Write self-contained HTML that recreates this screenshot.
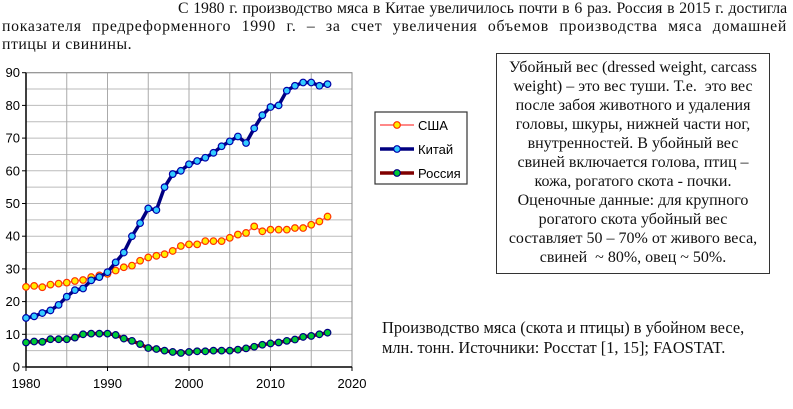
<!DOCTYPE html>
<html><head><meta charset="utf-8"><style>
body{margin:0;width:793px;height:409px;background:#fff;position:relative;overflow:hidden;font-family:"Liberation Serif",serif}
.tl{position:absolute;font-size:15.8px;line-height:18px;text-align:justify;text-align-last:justify;color:#111;white-space:nowrap}
#box{position:absolute;left:496px;top:53px;width:274px;height:221px;border:1.5px solid #333;box-sizing:border-box;font-size:16px;line-height:19px;text-align:center;padding-top:4px;color:#111;white-space:nowrap}
#cap{position:absolute;left:382px;top:318px;font-size:16.4px;line-height:20px;color:#111;white-space:nowrap}
svg{position:absolute;left:0;top:0}
</style></head><body>
<div>
<div class="tl" style="left:178px;top:0;width:609px;letter-spacing:-0.1px">С 1980 г. производство мяса в Китае увеличилось почти в 6 раз. Россия в 2015 г. достигла</div>
<div class="tl" style="left:2px;top:18px;width:785px;letter-spacing:0.7px">показателя предреформенного 1990 г. – за счет увеличения объемов производства мяса домашней</div>
<div class="tl" style="left:2px;top:36px;text-align-last:left;letter-spacing:0.5px">птицы и свинины.</div>
</div>
<div id="box">Убойный вес (dressed weight, carcass<br>weight) – это вес туши. Т.е.&nbsp; это вес<br>после забоя животного и удаления<br>головы, шкуры, нижней части ног,<br>внутренностей. В убойный вес<br>свиней включается голова, птиц –<br>кожа, рогатого скота - почки.<br>Оценочные данные: для крупного<br>рогатого скота убойный вес<br>составляет 50 – 70% от живого веса,<br>свиней&nbsp; ~ 80%, овец ~ 50%.</div>
<div id="cap">Производство мяса (скота и птицы) в убойном весе,<br>млн. тонн. Источники: Росстат [1, 15]; FAOSTAT.</div>
<svg id="chart" width="793" height="409"></svg>
<script>
const years=[];for(let y=1980;y<=2017;y++)years.push(y);
const usa=[24.5,24.8,24.4,25.2,25.5,25.8,26.3,26.6,27.5,28,28.5,29.5,30.5,31,32.5,33.5,34,34.5,35.5,37,37.5,37.5,38.5,38.5,38.5,39.5,40.5,41,43,41.5,42,42,42,42.5,42.5,43.5,44.5,46];
const china=[15,15.5,16.5,17.3,19,21.5,23.5,24,26.5,27.5,29,32,35,40,44,48.5,48,55,59,60,62,63,64,65.5,67.5,69,70.5,68.5,73,77,79.5,80,84.5,86,87,87,86,86.5];
const russia=[7.5,7.8,7.7,8.5,8.5,8.5,9,10,10.2,10.2,10.2,9.8,8.7,8,7,5.8,5.5,5,4.6,4.3,4.6,4.8,4.8,5,5,5,5.3,5.7,6.2,6.8,7.2,7.5,8,8.4,9.2,9.5,10,10.5];
const xTicks=[1980,1990,2000,2010,2020];
const yTicks=[0,10,20,30,40,50,60,70,80,90];
const series=[
 {name:'usa',label:'США',data:usa,line:'#ff6060',lw:1.5,fill:'#ffee00',stroke:'#ff3300'},
 {name:'china',label:'Китай',data:china,line:'#000080',lw:3.5,fill:'#33ccff',stroke:'#0000aa'},
 {name:'russia',label:'Россия',data:russia,line:'#800000',lw:3.5,fill:'#00cc33',stroke:'#000080'}];
const X0=26,X1=352,Y0=367,Y1=72.7;
const sx=v=>X0+(v-1980)/40*(X1-X0);
const sy=v=>Y0-v/90*(Y0-Y1);
const svg=document.getElementById('chart');const NS='http://www.w3.org/2000/svg';
function mk(t,a,p){const e=document.createElementNS(NS,t);for(const k in a)e.setAttribute(k,a[k]);(p||svg).appendChild(e);return e;}
for(let v=0;v<=90;v+=5){const l=mk('line',{x1:X0,x2:X1,y1:sy(v),y2:sy(v),stroke:'#bbb','stroke-width':1});

}
for(let y=1980;y<=2020;y+=5){const l=mk('line',{x1:sx(y),x2:sx(y),y1:Y1,y2:Y0,stroke:'#aaa','stroke-width':1});

}
mk('rect',{x:X0,y:Y1,width:X1-X0,height:Y0-Y1,fill:'none',stroke:'#888'});
const ax=mk('line',{x1:X0,x2:X1,y1:Y0,y2:Y0,stroke:'#000','stroke-width':1.5});


const ay=mk('line',{x1:X0,x2:X0,y1:Y1,y2:Y0,stroke:'#000','stroke-width':1.5});


yTicks.forEach(v=>{mk('line',{x1:X0-4,x2:X0,y1:sy(v),y2:sy(v),stroke:'#000'});
const t=mk('text',{x:X0-6,y:sy(v)+4.5,'text-anchor':'end','font-size':13,'font-family':'Liberation Sans,sans-serif'});t.textContent=v;

});
xTicks.forEach(v=>{mk('line',{x1:sx(v),x2:sx(v),y1:Y0,y2:Y0+4,stroke:'#000'});
const t=mk('text',{x:sx(v),y:Y0+21,'text-anchor':'middle','font-size':13,'font-family':'Liberation Sans,sans-serif'});t.textContent=v;

});
series.forEach(s=>{const g=mk('g',{});


mk('polyline',{points:s.data.map((v,i)=>sx(years[i])+','+sy(v)).join(' '),fill:'none',stroke:s.line,'stroke-width':s.lw,'stroke-linejoin':'round'},g);
s.data.forEach((v,i)=>{const c=mk('circle',{cx:sx(years[i]),cy:sy(v),r:3.3,fill:s.fill,stroke:s.stroke,'stroke-width':1.2},g);

});});
const lg=mk('g',{});


mk('rect',{x:375,y:112,width:92,height:72,fill:'#fff',stroke:'#333','stroke-width':1.2},lg);
series.forEach((s,i)=>{const y=125+i*24;const e=mk('g',{},lg);


mk('line',{x1:380,x2:414,y1:y,y2:y,stroke:s.line,'stroke-width':s.lw},e);
mk('circle',{cx:397,cy:y,r:3.3,fill:s.fill,stroke:s.stroke,'stroke-width':1.2},e);
const t=mk('text',{x:418,y:y+5,'font-size':13,'font-family':'Liberation Sans,sans-serif'},e);t.textContent=s.label;});
</script>
</body></html>
